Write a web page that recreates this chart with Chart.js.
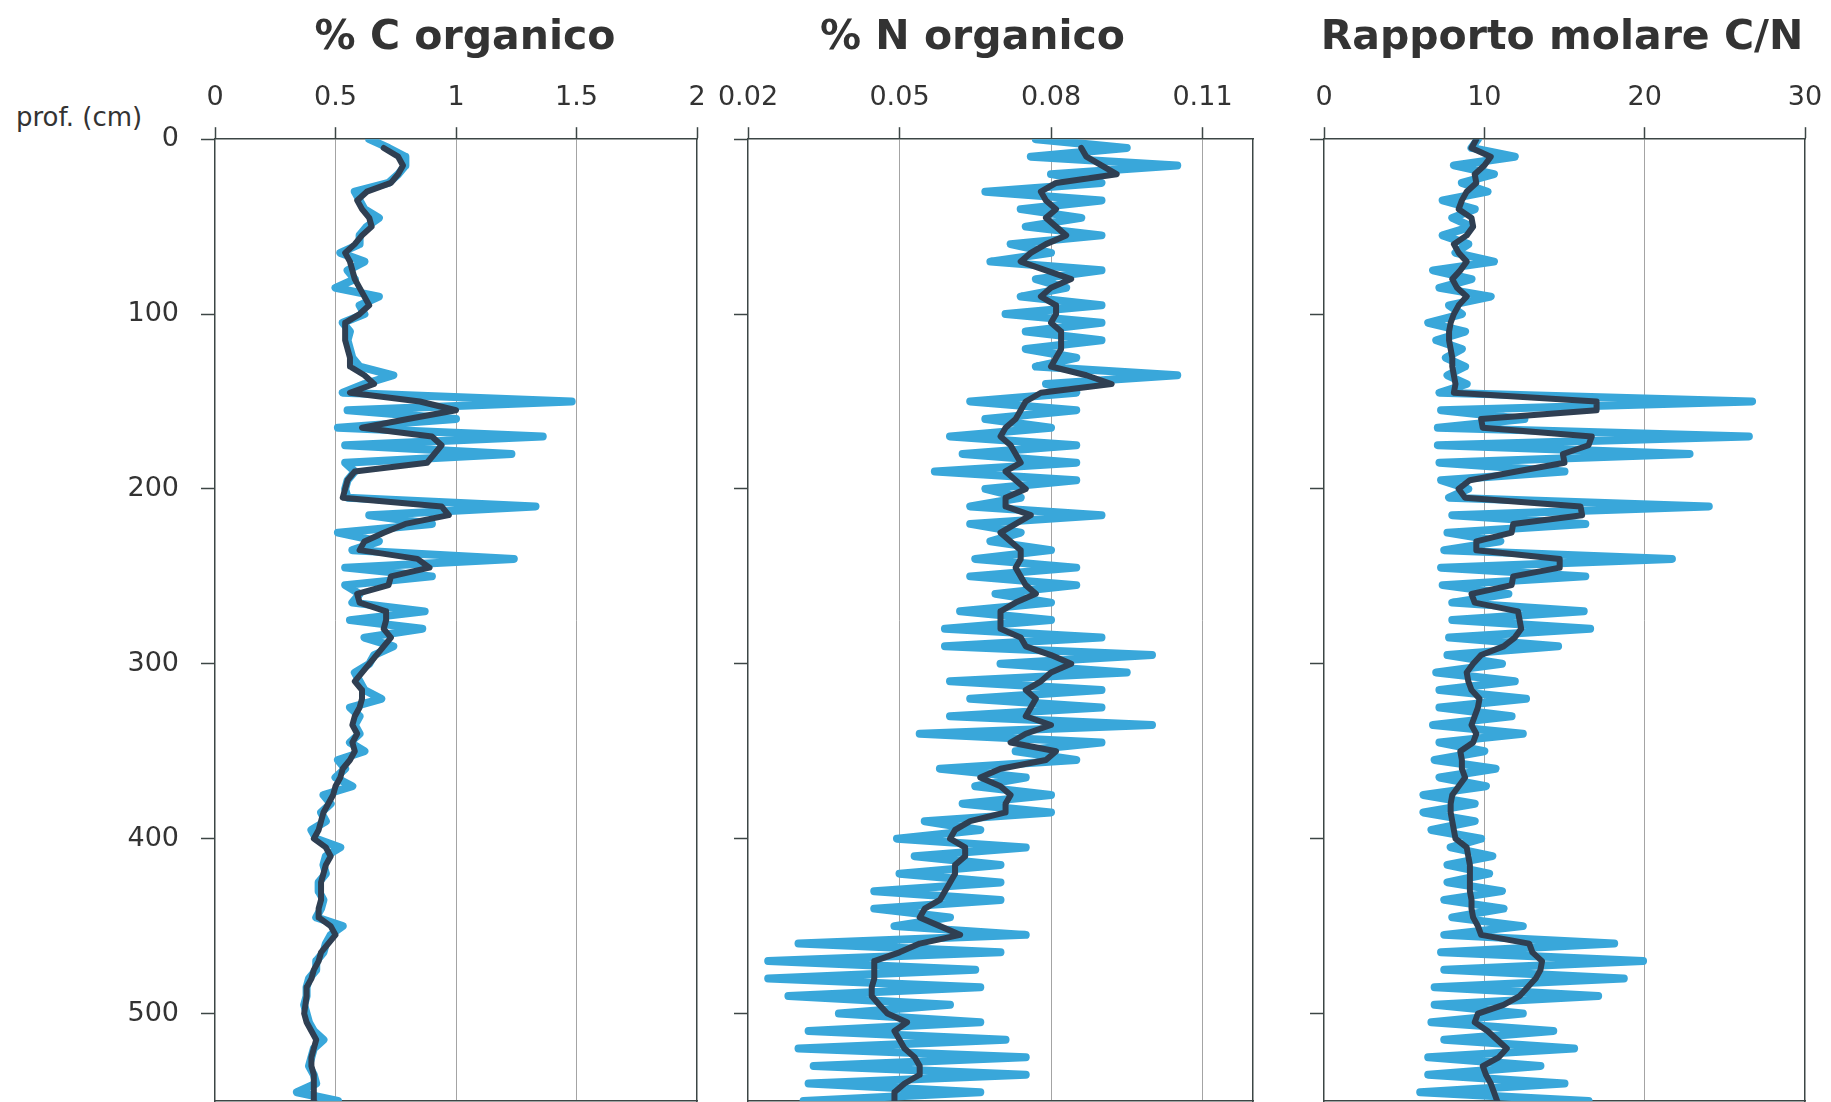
<!DOCTYPE html>
<html>
<head>
<meta charset="utf-8">
<script src="https://cdn.jsdelivr.net/npm/chart.js@4.4.0/dist/chart.umd.min.js"></script>
<style>
    body { margin: 0; background: #fff; width: 1831px; height: 1102px; overflow: hidden; position: relative; }
    canvas { position: absolute; top: 0; }
    #prof { position: absolute; left: 16px; top: 103px; font-family: 'DejaVu Sans', sans-serif; font-size: 26px; line-height: 28px; color: #333; }
</style>
</head>
<body>
<div id="prof">prof. (cm)</div>
<canvas id="c_chart" width="930" height="1102" style="left:0px"></canvas>
<canvas id="n_chart" width="563" height="1102" style="left:691px"></canvas>
<canvas id="cn_chart" width="538" height="1102" style="left:1293px"></canvas>
<script>
// depth of each sample (cm)
const depth = [0,5,10,15,20,25,30,35,40,45,50,55,60,65,70,75,80,85,90,95,
    100,105,110,115,120,125,130,135,140,145,150,155,160,165,170,175,180,185,190,195,
    200,205,210,215,220,225,230,235,240,245,250,255,260,265,270,275,280,285,290,295,
    300,305,310,315,320,325,330,335,340,345,350,355,360,365,370,375,380,385,390,395,
    400,405,410,415,420,425,430,435,440,445,450,455,460,465,470,475,480,485,490,495,
    500,505,510,515,520,525,530,535,540,545,550];

// % C organico
const cRaw = [0.64,0.72,0.79,0.79,0.76,0.72,0.58,0.60,0.62,0.68,
    0.63,0.60,0.60,0.52,0.62,0.55,0.58,0.50,0.68,0.60,
    0.62,0.53,0.56,0.55,0.56,0.57,0.60,0.74,0.62,0.53,
    1.48,0.55,1.00,0.51,1.36,0.54,1.23,0.54,0.58,0.55,
    0.54,0.55,1.33,0.64,0.90,0.51,0.68,0.57,1.24,0.54,
    0.90,0.54,0.60,0.57,0.87,0.56,0.86,0.62,0.74,0.66,
    0.64,0.58,0.60,0.62,0.69,0.56,0.60,0.58,0.60,0.56,
    0.62,0.51,0.54,0.50,0.57,0.45,0.48,0.44,0.46,0.40,
    0.42,0.52,0.46,0.45,0.46,0.43,0.43,0.45,0.44,0.42,
    0.53,0.48,0.46,0.45,0.42,0.42,0.39,0.38,0.38,0.37,
    0.38,0.39,0.41,0.45,0.41,0.40,0.39,0.41,0.42,0.34,0.51];
const cMean = [null,0.70,0.76,0.78,0.76,0.73,0.63,0.59,0.61,0.64,
    0.65,0.61,0.58,0.54,0.56,0.57,0.58,0.60,0.62,0.64,
    0.60,0.54,0.54,0.54,0.55,0.56,0.56,0.62,0.66,0.56,
    0.85,1.00,0.80,0.61,0.90,0.94,0.91,0.88,0.58,0.55,
    0.54,0.53,0.94,0.97,0.79,0.70,0.62,0.60,0.84,0.89,
    0.73,0.72,0.59,0.60,0.71,0.71,0.70,0.73,0.70,0.67,
    0.64,0.61,0.58,0.61,0.61,0.60,0.58,0.57,0.59,0.57,
    0.58,0.56,0.53,0.52,0.50,0.49,0.47,0.45,0.44,0.43,
    0.41,0.46,0.48,0.46,0.45,0.44,0.44,0.44,0.43,0.43,
    0.48,0.50,0.47,0.44,0.43,0.41,0.40,0.38,0.38,0.375,
    0.37,0.38,0.40,0.42,0.41,0.40,0.40,0.41,0.41,0.41,0.41];

// % N organico
const nRaw = [0.077,0.095,0.076,0.105,0.080,0.090,0.067,0.090,0.074,0.086,
    0.075,0.090,0.072,0.080,0.068,0.090,0.077,0.083,0.074,0.090,
    0.071,0.090,0.075,0.090,0.075,0.085,0.077,0.105,0.079,0.085,
    0.064,0.085,0.067,0.080,0.060,0.085,0.0625,0.085,0.057,0.085,
    0.067,0.074,0.064,0.090,0.064,0.074,0.068,0.080,0.065,0.085,
    0.064,0.085,0.069,0.080,0.062,0.080,0.059,0.090,0.059,0.100,
    0.070,0.095,0.060,0.090,0.064,0.090,0.060,0.100,0.054,0.090,
    0.073,0.085,0.058,0.075,0.065,0.080,0.0625,0.080,0.055,0.066,
    0.0495,0.075,0.053,0.070,0.050,0.070,0.045,0.070,0.045,0.060,
    0.049,0.075,0.030,0.070,0.024,0.065,0.024,0.066,0.028,0.060,
    0.038,0.066,0.032,0.071,0.030,0.075,0.033,0.075,0.032,0.066,0.031];
const nMean = [null,0.086,0.087,0.090,0.093,0.081,0.078,0.079,0.081,0.079,
    0.081,0.083,0.079,0.076,0.074,0.079,0.084,0.080,0.078,0.081,
    0.081,0.080,0.082,0.082,0.082,0.081,0.080,0.087,0.092,0.078,
    0.075,0.074,0.073,0.071,0.070,0.072,0.073,0.074,0.071,0.073,
    0.075,0.071,0.071,0.076,0.073,0.070,0.072,0.074,0.074,0.073,
    0.074,0.075,0.077,0.073,0.070,0.070,0.070,0.074,0.075,0.080,
    0.084,0.080,0.078,0.075,0.077,0.076,0.075,0.080,0.075,0.072,
    0.081,0.079,0.070,0.066,0.070,0.072,0.071,0.071,0.064,0.061,
    0.060,0.063,0.063,0.061,0.061,0.060,0.059,0.058,0.055,0.054,
    0.058,0.062,0.054,0.050,0.045,0.045,0.045,0.0445,0.0445,0.046,
    0.0476,0.0515,0.049,0.050,0.051,0.053,0.054,0.054,0.051,0.049,0.049];

// Rapporto molare C/N
const cnRaw = [9.6,9.2,11.9,8.1,10.6,8.6,10.2,7.4,9.4,8.0,
    9.2,7.4,9.0,8.2,10.6,6.8,9.2,7.2,10.4,7.8,
    8.6,6.5,8.8,7.0,8.6,7.6,8.8,7.7,8.9,7.2,
    26.7,7.3,12.5,7.1,26.5,7.1,22.8,7.2,15.0,7.3,
    9.0,7.8,24.0,8.0,16.3,7.7,11.0,7.5,21.7,7.3,
    16.3,7.4,11.5,8.0,16.2,8.0,16.6,7.8,14.6,7.7,
    11.1,7.0,11.9,7.2,12.6,7.2,11.7,6.8,12.4,7.2,
    10.0,6.9,10.7,7.2,10.1,6.2,9.4,6.2,9.4,6.7,
    9.8,7.9,10.5,7.7,10.3,7.7,11.1,7.5,11.2,8.0,
    12.4,7.5,18.1,7.3,19.9,7.5,18.7,6.9,17.1,6.9,
    12.4,6.7,14.3,7.5,15.6,6.5,13.5,6.5,15.0,6.0,16.5];
const cnMean = [9.5,9.2,10.4,10.0,9.4,9.5,8.9,8.6,8.4,9.2,
    9.3,8.9,8.1,8.4,8.9,8.5,8.0,8.3,8.9,8.4,
    8.1,7.9,7.8,7.8,7.9,8.0,8.0,8.1,8.2,8.1,
    17.0,17.0,9.8,9.9,16.7,16.5,14.9,15.0,12.0,9.1,
    8.4,8.8,16.0,16.1,11.8,11.7,9.5,9.5,14.7,14.7,
    11.8,11.7,9.2,9.4,12.1,12.2,12.3,11.9,11.2,9.8,
    9.3,8.9,9.0,9.2,9.7,9.6,9.4,9.2,9.5,9.3,
    8.5,8.6,8.6,8.8,8.4,8.0,7.9,7.9,8.0,8.1,
    8.2,8.9,9.0,9.1,9.1,9.1,9.1,9.2,9.2,9.3,
    9.6,9.8,12.8,13.0,13.6,13.5,13.2,12.7,12.2,11.2,
    9.6,9.4,10.2,10.8,11.4,10.9,9.9,10.1,10.4,10.6,10.8];

// axis ticks
const depthTicks = [0, 100, 200, 300, 400, 500];
const depthLabels = ['0', '100', '200', '300', '400', '500'];
const cTicks = [0, 0.5, 1, 1.5, 2];
const cLabels = ['0', '0.5', '1', '1.5', '2'];
const nTicks = [0.02, 0.05, 0.08, 0.11];
const nLabels = ['0.02', '0.05', '0.08', '0.11'];
const cnTicks = [0, 10, 20, 30];
const cnLabels = ['0', '10', '20', '30'];

const LIGHT = '#39a7da';
const DARK = '#2f3f52';
const FRAME = '#3c4645';
const GRID = '#a4a4a4';
const TEXT = '#333333';

Chart.defaults.font.family = "'DejaVu Sans', sans-serif";
Chart.defaults.color = TEXT;

function toPoints(values) {
    return values.map((v, i) => ({ x: v, y: depth[i] }));
}

// fixed box sizes, no extra label padding
function fixSize(prop, size) {
    return s => {
        s[prop] = size;
        s.paddingTop = 0;
        s.paddingBottom = 0;
        s.paddingLeft = 0;
        s.paddingRight = 0;
    };
}

function profileConfig(p) {
    const hidden = 'rgba(0,0,0,0)';
    return {
        type: 'scatter',
        data: {
            datasets: [{
                data: toPoints(p.mean),
                showLine: true,
                borderColor: DARK,
                borderWidth: 6,
                borderJoinStyle: 'round',
                borderCapStyle: 'round',
                pointRadius: 0,
                tension: 0
            }, {
                data: toPoints(p.raw),
                showLine: true,
                borderColor: LIGHT,
                borderWidth: 8,
                borderJoinStyle: 'round',
                borderCapStyle: 'round',
                pointRadius: 0,
                tension: 0
            }]
        },
        options: {
            responsive: false,
            animation: false,
            events: [],
            layout: { padding: 0 },
            plugins: {
                legend: { display: false },
                tooltip: { enabled: false },
                title: {
                    display: true,
                    text: p.title,
                    color: TEXT,
                    font: { size: 41, weight: 'bold' },
                    padding: { top: 14, bottom: 0 }
                }
            },
            scales: {
                x: {
                    type: 'linear',
                    position: 'top',
                    min: p.min,
                    max: p.max,
                    afterBuildTicks: s => { s.ticks = p.ticks.map(v => ({ value: v })); },
                    afterFit: fixSize('height', 76),
                    ticks: {
                        callback: (v, i) => p.labels[i],
                        autoSkip: false,
                        maxRotation: 0,
                        padding: 13,
                        font: { size: 27 }
                    },
                    grid: {
                        color: ctx => (ctx.tick && ctx.tick.value > p.min && ctx.tick.value < p.max) ? GRID : hidden,
                        lineWidth: 1,
                        tickColor: FRAME,
                        tickWidth: 1.5,
                        tickLength: 12
                    },
                    border: { color: FRAME, width: 1.5 }
                },
                x2: {
                    type: 'linear',
                    position: 'bottom',
                    min: p.min,
                    max: p.max,
                    afterFit: fixSize('height', 1),
                    ticks: { display: false },
                    grid: { display: false },
                    border: { color: FRAME, width: 1.5 }
                },
                y: {
                    type: 'linear',
                    position: 'left',
                    reverse: true,
                    min: 0,
                    max: 550,
                    afterBuildTicks: s => { s.ticks = depthTicks.map(v => ({ value: v })); },
                    afterFit: fixSize('width', p.leftWidth),
                    ticks: {
                        display: p.showDepth,
                        callback: (v, i) => depthLabels[i],
                        autoSkip: false,
                        padding: 22,
                        font: { size: 27 }
                    },
                    grid: {
                        drawOnChartArea: false,
                        tickColor: FRAME,
                        tickWidth: 1.5,
                        tickLength: 14
                    },
                    border: { color: FRAME, width: 1.5 }
                },
                y2: {
                    type: 'linear',
                    position: 'right',
                    reverse: true,
                    min: 0,
                    max: 550,
                    afterFit: fixSize('width', p.rightWidth),
                    ticks: { display: false },
                    grid: { display: false },
                    border: { color: FRAME, width: 1.5 }
                }
            }
        }
    };
}

new Chart(document.getElementById('c_chart'), profileConfig({
    title: '% C organico', raw: cRaw, mean: cMean,
    min: 0, max: 2, ticks: cTicks, labels: cLabels,
    showDepth: true, leftWidth: 215, rightWidth: 233
}));

new Chart(document.getElementById('n_chart'), profileConfig({
    title: '% N organico', raw: nRaw, mean: nMean,
    min: 0.02, max: 0.12, ticks: nTicks, labels: nLabels,
    showDepth: false, leftWidth: 57, rightWidth: 1
}));

new Chart(document.getElementById('cn_chart'), profileConfig({
    title: 'Rapporto molare C/N', raw: cnRaw, mean: cnMean,
    min: 0, max: 30, ticks: cnTicks, labels: cnLabels,
    showDepth: false, leftWidth: 31, rightWidth: 26
}));
</script>
</body>
</html>
